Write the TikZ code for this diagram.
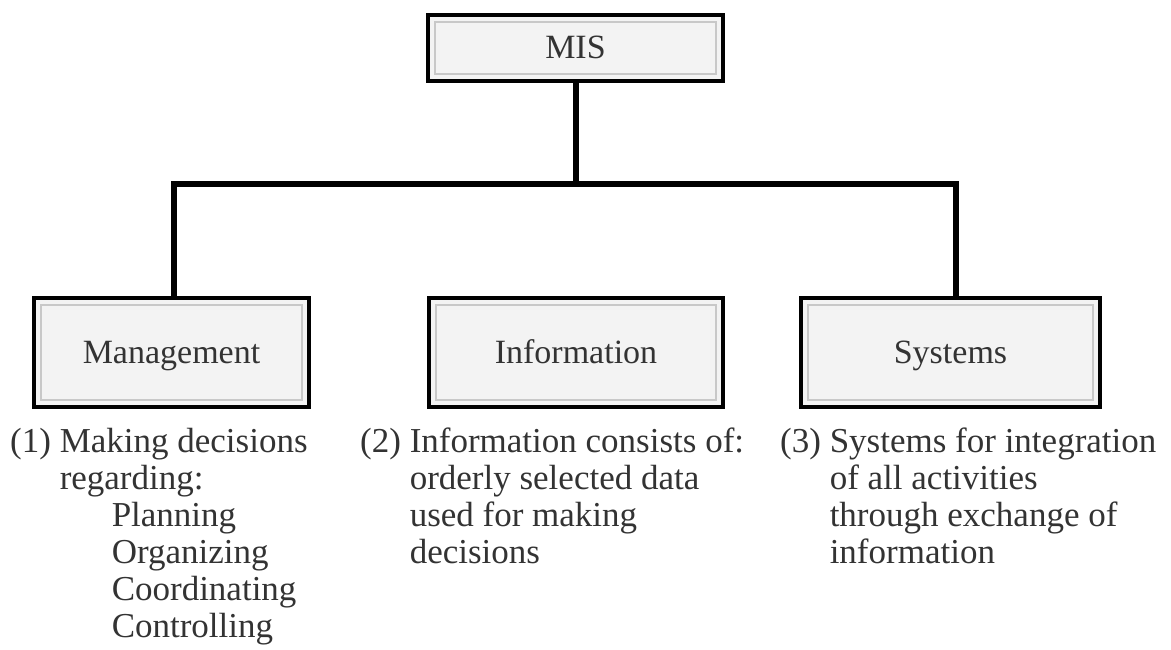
\documentclass[tikz,border=0pt]{standalone}
\usepackage{fontspec}
\setmainfont{Liberation Serif}
\definecolor{boxfill}{HTML}{F3F3F3}
\definecolor{innergrey}{HTML}{C8C8C8}
\definecolor{txt}{HTML}{333333}
\tikzset{
  mbox/.style={draw=black, line width=4pt, fill=boxfill, outer sep=0pt, inner sep=0pt,
    font=\fontsize{34}{38}\selectfont, text=txt, text height=26pt, text depth=4pt},
  innerframe/.style={draw=innergrey, line width=1.6pt},
  link/.style={draw=black, line width=6pt},
  desc/.style={anchor=north west, align=left, inner sep=0pt, text=txt,
    font=\fontsize{35}{37}\selectfont}
}
\begin{document}
\begin{tikzpicture}[x=1pt, y=-1pt]
\useasboundingbox (0,0) rectangle (1171,650);
% boxes
\node[mbox, minimum width=295pt, minimum height=66pt] (mis) at (575.5,48) {MIS};
\node[mbox, minimum width=275pt, minimum height=109pt] (mgmt) at (171.5,352.5) {Management};
\node[mbox, minimum width=294pt, minimum height=109pt] (info) at (576,352.5) {Information};
\node[mbox, minimum width=299pt, minimum height=109pt] (sys) at (950.5,352.5) {Systems};
\foreach \n in {mis,mgmt,info,sys}{
  \draw[innerframe] ([xshift=7pt,yshift=-7pt]\n.north west) rectangle ([xshift=-7pt,yshift=7pt]\n.south east);
}
% connectors
\coordinate (j) at (575.5,184);
\coordinate (jl) at (174,184);
\coordinate (jr) at (956,184);
\draw[link] (mis.south) -- (j);
\draw[link, line cap=rect] (jl) -- (jr);
\draw[link] (jl) -- (jl |- mgmt.north);
\draw[link] (jr) -- (jr |- sys.north);
% descriptions
\node[desc] (d1) at (10,426) {\begin{tabular}{@{}l@{\ }l@{}}
(1) & Making decisions\\
    & regarding:\\
    & \hspace{52pt}Planning\\
    & \hspace{52pt}Organizing\\
    & \hspace{52pt}Coordinating\\
    & \hspace{52pt}Controlling
\end{tabular}};
\node[desc] (d2) at (360,426) {\begin{tabular}{@{}l@{\ }l@{}}
(2) & Information consists of:\\
    & orderly selected data\\
    & used for making\\
    & decisions
\end{tabular}};
\node[desc] (d3) at (780,426) {\begin{tabular}{@{}l@{\ }l@{}}
(3) & Systems for integration\\
    & of all activities\\
    & through exchange of\\
    & information
\end{tabular}};
\end{tikzpicture}
\end{document}
